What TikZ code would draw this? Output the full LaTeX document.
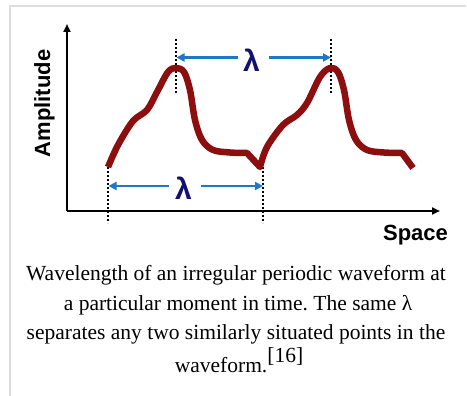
\documentclass[tikz,border=0pt]{standalone}
\usepackage{fontspec}
\setmainfont{Liberation Serif}
\newfontfamily\arialfont{Liberation Sans}
\usetikzlibrary{arrows.meta}
\definecolor{wavered}{RGB}{140,14,14}
\definecolor{arrowblue}{RGB}{30,120,200}
\definecolor{lambdanavy}{RGB}{18,18,110}
\definecolor{framegray}{RGB}{221,221,221}
\tikzset{
  axisline/.style={line width=2pt, -{Triangle[length=8pt,width=7pt]}},
  guide/.style={line width=1.7pt, dash pattern=on 1.7pt off 2.3pt},
  lamarrow/.style={draw=arrowblue, line width=2.6pt, -{Triangle[length=8pt,width=8pt]}},
  lamlabel/.style={inner sep=0pt, text=lambdanavy, font=\arialfont\bfseries\fontsize{30}{30}\selectfont},
  axislabel/.style={inner sep=0pt, anchor=base, font=\arialfont\bfseries\fontsize{22}{22}\selectfont},
  captionline/.style={inner sep=0pt, anchor=base, font=\frenchspacing\fontsize{21.5}{21.5}\selectfont},
  wave/.style={draw=wavered, line width=6.5pt, line join=round, line cap=butt}
}
\begin{document}
\begin{tikzpicture}[x=1pt,y=-1pt]
\useasboundingbox (0,0) rectangle (467,396);
\fill[white] (0,0) rectangle (467,396);
% frame
\draw[framegray, line width=2pt] (10,396) -- (10,6) -- (466,6);
% axes
\coordinate (O) at (67,211);
\coordinate (ytip) at (67,24);
\coordinate (xtip) at (440,211);
\draw[axisline] (O) -- (ytip);
\draw[axisline] (O) -- (xtip);
\node[axislabel, rotate=90] (amp) at (50,103.5) {Amplitude};
\node[axislabel] (space) at (415.5,241) {Space};
% guide lines
\coordinate (g1a) at (108,167); \coordinate (g1b) at (108,223);
\coordinate (g2a) at (263,167); \coordinate (g2b) at (263,223);
\coordinate (g3a) at (176,39);  \coordinate (g3b) at (176,94);
\coordinate (g4a) at (331,39);  \coordinate (g4b) at (331,94);
\draw[guide] (g1a) -- (g1b);
\draw[guide] (g2a) -- (g2b);
\draw[guide] (g3a) -- (g3b);
\draw[guide] (g4a) -- (g4b);
% wave
\draw[wave] plot[smooth, tension=0.55] coordinates {(108,167) (118,145) (133,121) (147,110) (157,92) (168,72) (176,68) (184,72) (190,90) (195,120) (202,140) (213,150) (230,152.5) (247,153)}
  -- plot[smooth, tension=0.55] coordinates {(260,167) (267,147) (283,125) (297,115) (307,103) (320,77) (330,68) (338,72) (344,90) (349,120) (356,140) (367,150) (384,152.5) (402,153)}
  -- (413,168);
% lambda arrows top
\node[lamlabel] (lamtop) at (251.5,60) {λ};
\coordinate (tl) at (176.5,57.5); \coordinate (tr) at (331,57.5);
\coordinate (tlm) at (238,57.5); \coordinate (trm) at (269,57.5);
\draw[lamarrow] (tlm) -- (tl);
\draw[lamarrow] (trm) -- (tr);
% lambda arrows bottom
\node[lamlabel] (lambot) at (183.5,188.5) {λ};
\coordinate (bl) at (108.5,186); \coordinate (br) at (263,186);
\coordinate (blm) at (169,186); \coordinate (brm) at (201,186);
\draw[lamarrow] (blm) -- (bl);
\draw[lamarrow] (brm) -- (br);
% caption
\node[captionline] (c1) at (236,280) {Wavelength of an irregular periodic waveform at};
\node[captionline] (c2) at (238,310) {a particular moment in time. The same λ};
\node[captionline] (c3) at (236,339) {separates any two similarly situated points in the};
\node[captionline] (c4) at (239,373) {waveform.\raisebox{10pt}{[16]}};
\end{tikzpicture}
\end{document}
